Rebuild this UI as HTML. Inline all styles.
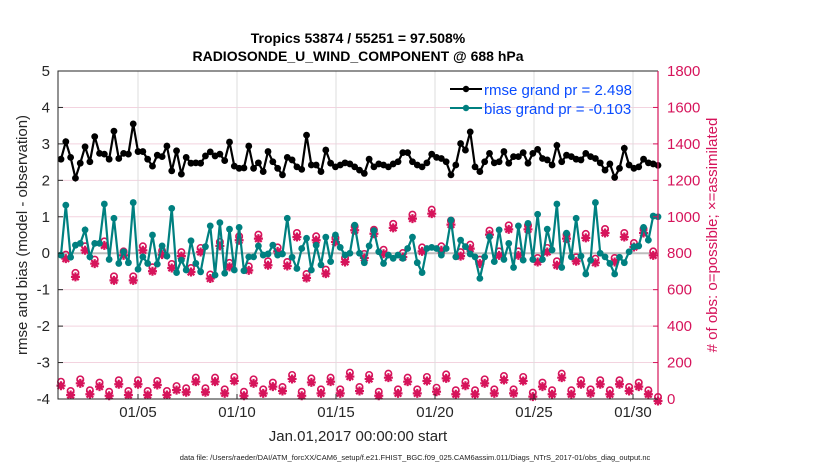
<!DOCTYPE html>
<html><head><meta charset="utf-8"><style>
body{margin:0;background:#fff;width:830px;height:470px;overflow:hidden}
svg{font-family:"Liberation Sans",sans-serif}
</style></head><body>
<svg id="c" width="830" height="470">
<rect width="830" height="470" fill="#fff"/>
<g id="grid"></g><g id="marks"></g><g id="axes"></g>
<text x="358" y="43" text-anchor="middle" font-size="14" font-weight="bold">Tropics 53874 / 55251 = 97.508%</text>
<text x="358" y="61" text-anchor="middle" font-size="14" font-weight="bold">RADIOSONDE_U_WIND_COMPONENT @ 688 hPa</text>
<text x="358" y="441" text-anchor="middle" font-size="15" fill="#262626">Jan.01,2017 00:00:00 start</text>
<text x="415" y="460" text-anchor="middle" font-size="7.5" fill="#222">data file: /Users/raeder/DAI/ATM_forcXX/CAM6_setup/f.e21.FHIST_BGC.f09_025.CAM6assim.011/Diags_NTrS_2017-01/obs_diag_output.nc</text>
<text transform="translate(27,235) rotate(-90)" text-anchor="middle" font-size="15" fill="#262626">rmse and bias (model - observation)</text>
<text transform="translate(717,235) rotate(-90)" text-anchor="middle" font-size="15" fill="#d6145b"># of obs: o=possible; ×=assimilated</text>
<g>
<line x1="450" y1="89" x2="482" y2="89" stroke="#000" stroke-width="2"/><circle cx="466" cy="89" r="3.2" fill="#000"/>
<text x="484" y="95" font-size="15" fill="#0a4cff">rmse grand pr = 2.498</text>
<line x1="450" y1="108" x2="482" y2="108" stroke="#008080" stroke-width="2"/><circle cx="466" cy="108" r="3.2" fill="#008080"/>
<text x="484" y="114" font-size="15" fill="#0a4cff">bias grand pr = -0.103</text>
</g>
</svg>
<script>
const rmse=[2.58,3.06,2.63,2.06,2.47,2.92,2.51,3.20,2.74,2.72,2.58,3.35,2.60,2.74,2.72,3.55,2.79,2.79,2.58,2.39,2.69,2.65,2.94,2.26,2.81,2.17,2.63,2.47,2.48,2.47,2.67,2.78,2.67,2.72,2.54,3.05,2.39,2.33,2.34,2.94,2.33,2.48,2.24,2.79,
2.51,2.33,2.15,2.63,2.56,2.37,2.30,3.24,2.42,2.42,2.24,2.83,2.47,2.37,2.42,2.48,2.45,2.37,2.28,2.19,2.58,2.37,2.45,2.42,2.37,2.45,2.51,2.76,2.76,2.51,2.42,2.37,2.48,2.72,2.63,2.60,2.51,2.15,2.42,3.01,2.83,
3.33,2.37,2.24,2.51,2.74,2.48,2.51,2.79,2.47,2.65,2.65,2.76,2.47,2.74,2.85,2.60,2.56,2.42,2.96,2.51,2.69,2.65,2.58,2.56,2.74,2.65,2.60,2.48,2.28,2.45,2.08,2.33,2.88,2.42,2.33,2.37,2.58,2.48,2.45,2.41];
const bias=[-0.05,1.32,-0.11,0.22,0.27,0.64,-0.10,0.27,0.27,1.35,-0.17,0.96,-0.28,0.04,-0.26,1.39,-0.44,-0.10,-0.28,0.50,-0.30,0.20,-0.08,1.23,-0.53,-0.19,-0.46,0.34,-0.28,-0.51,0.18,0.75,-0.60,0.84,-0.55,0.66,-0.46,0.71,-0.48,-0.10,-0.10,0.20,-0.05,-0.02,
0.22,-0.05,-0.02,0.96,-0.11,-0.42,0.13,0.41,-0.46,0.22,-0.32,0.44,-0.23,0.50,0.16,-0.05,0.00,0.77,0.00,-0.26,0.20,0.62,0.04,-0.28,-0.05,-0.14,-0.05,-0.14,0.13,0.44,-0.26,-0.53,0.13,0.16,0.13,-0.05,0.13,0.91,-0.10,0.36,0.18,
-0.02,-0.10,-0.69,-0.10,0.45,-0.23,0.64,-0.17,0.27,-0.39,0.75,-0.19,0.82,-0.17,1.07,-0.17,0.66,0.09,1.35,-0.39,0.55,-0.10,0.96,-0.08,-0.57,-0.19,1.39,0.00,-0.10,-0.28,-0.57,-0.11,-0.26,0.04,0.18,0.20,0.71,0.36,1.02,1.00];
const obsHigh=[781,681,827,754,854,662,799,662,827,712,803,730,795,708,818,672,851,736,882,717,891,745,
821,741,900,675,882,699,873,763,937,785,918,808,950,790,1001,821,1028,827,968,795,836,
754,913,799,942,799,942,763,818,745,891,767,895,759,922,763,900,845,922,799];
const obsLow=[84,33,97,37,79,29,92,33,92,33,88,33,60,48,106,48,106,42,110,29,97,42,79,55,121,29,102,42,106,42,134,55,121,29,128,42,106,42,110,51,124,37,84,37,97,42,115,42,110,24,79,37,128,37,92,42,92,37,92,55,79,37,0];
const yTicks=[-4,-3,-2,-1,0,1,2,3,4,5];
const rTicks=[0,200,400,600,800,1000,1200,1400,1600,1800];
const xTickDays=[5,10,15,20,25,30];
const xTickLabels=["01/05","01/10","01/15","01/20","01/25","01/30"];

const L=58,R=658,T=71,B=399;
const yL=v=>B-(v+4)/9*(B-T);
const yR=v=>B-v/1800*(B-T);
const xDay=d=>58.8+(d-1)*19.8;
const N=rmse.length;
const xi=i=>61+i*(597/(N-1));
const NS="http://www.w3.org/2000/svg";
function mk(tag,attrs,parent){const e=document.createElementNS(NS,tag);for(const k in attrs)e.setAttribute(k,attrs[k]);parent.appendChild(e);return e;}
const grid=document.getElementById('grid'),marks=document.getElementById('marks'),axes=document.getElementById('axes');
yTicks.forEach(v=>{
  const g=mk('line',{x1:L,x2:R,y1:yL(v),y2:yL(v),stroke:'#f3d3df','stroke-width':1},grid);
  
  
  const t=mk('text',{x:L-8,y:yL(v)+5,'text-anchor':'end','font-size':15,fill:'#262626'},axes);t.textContent=v;
  
  
  mk('line',{x1:L,x2:L+5,y1:yL(v),y2:yL(v),stroke:'#262626'},axes);
});
rTicks.forEach(v=>{
  const t=mk('text',{x:R+9,y:yR(v)+5,'font-size':15,fill:'#d6145b'},axes);t.textContent=v;
  
  
  mk('line',{x1:R-5,x2:R,y1:yR(v),y2:yR(v),stroke:'#d6145b'},axes);
});
xTickDays.forEach((d,k)=>{
  const g=mk('line',{x1:xDay(d),x2:xDay(d),y1:T,y2:B,stroke:'#dcdcdc'},grid);
  
  
  mk('line',{x1:xDay(d),x2:xDay(d),y1:B-5,y2:B,stroke:'#262626'},axes);
  const t=mk('text',{x:xDay(d),y:B+18,'text-anchor':'middle','font-size':15,fill:'#262626'},axes);t.textContent=xTickLabels[k];
  
  
});
const z=mk('line',{x1:L,x2:R,y1:yL(0),y2:yL(0),stroke:'#bdbdbd','stroke-width':2},grid);


// obs markers
const obs=[];let hi=0,lo=0;
for(let i=0;i<N;i++){obs.push(i%2===0?obsLow[lo++]:obsHigh[hi++]);}
obs.forEach((v,i)=>{
  if(v===undefined)return;
  const g=mk('g',{},marks);
  
  
  const x=xi(i),y=yR(v);
  mk('circle',{cx:x,cy:y-2,r:3.2,fill:'none',stroke:'#d6145b','stroke-width':1.6},g);
  mk('path',{d:`M${x-4.5} ${y+2}H${x+4.5}M${x} ${y-2.5}V${y+6.5}M${x-3.3} ${y-1.3}L${x+3.3} ${y+5.3}M${x+3.3} ${y-1.3}L${x-3.3} ${y+5.3}`,stroke:'#d6145b','stroke-width':2.2},g);
  mk('circle',{cx:x,cy:y+2,r:2.6,fill:'#d6145b'},g);
});
function series(arr,color,name){
  const p=mk('polyline',{points:arr.map((v,i)=>xi(i)+','+yL(v)).join(' '),fill:'none',stroke:color,'stroke-width':2.2},marks);
  
  
  arr.forEach((v,i)=>{const c=mk('circle',{cx:xi(i),cy:yL(v),r:3.4,fill:color},marks);
    
    });
}
series(bias,'#008080','bias');
series(rmse,'#000','rmse');
mk('path',{d:`M${R} ${T}H${L}V${B}H${R}`,fill:'none',stroke:'#262626','stroke-width':1},axes);
mk('line',{x1:R,x2:R,y1:T,y2:B,stroke:'#d6145b','stroke-width':1.2},axes);
</script>
</body></html>
